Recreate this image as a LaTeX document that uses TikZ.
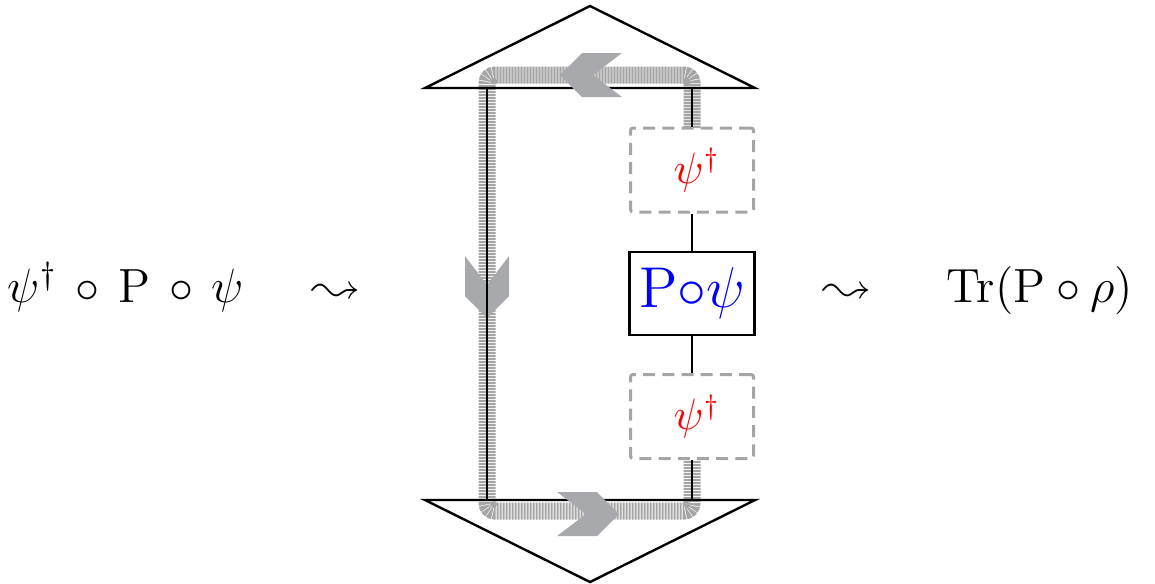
\documentclass[tikz,border=0pt]{standalone}
\usepackage{latexsym}
\usetikzlibrary{positioning,calc}
\definecolor{bandgray}{RGB}{165,165,165}
\definecolor{chevgray}{RGB}{167,169,172}
\definecolor{boxgray}{RGB}{165,165,165}

\begin{document}
\begin{tikzpicture}[x=0.25pt,y=-0.25pt,
  wire/.style={line width=0.55pt},
  tri/.style={line width=0.6pt,line join=miter},
  band/.style={bandgray,line width=4.25pt,dash pattern=on 0.55pt off 0.2pt,rounded corners=2pt},
  ghost/.style={draw=boxgray,line width=0.75pt,dash pattern=on 3pt off 1.8pt,rounded corners=0.6pt,
    minimum width=30.75pt,minimum height=21pt,inner sep=0pt,font=\fontsize{10.5}{12}\selectfont},
  gate/.style={draw,line width=0.6pt,minimum width=31.25pt,minimum height=20.75pt,inner sep=0pt,
    font=\fontsize{13.3}{16}\selectfont},
  eqn/.style={anchor=base,inner sep=0pt,font=\fontsize{12}{14}\selectfont},
  chevron/.pic={\fill[chevgray] (0,0) -- (-22,-22) -- (-62,-22) -- (-33,0) -- (-62,22) -- (-22,22) -- cycle;}]
\useasboundingbox (0,0) rectangle (1155,583);

% triangles
\coordinate (capL) at (425,88);
\coordinate (capR) at (755,88);
\coordinate (capA) at (590,6);
\coordinate (cupL) at (425,500);
\coordinate (cupR) at (755,500);
\coordinate (cupA) at (590,582);
\coordinate (capW) at (487,88);
\coordinate (cupW) at (487,500);
\coordinate (capV) at (692,88);
\coordinate (cupV) at (692,500);

% striped band
\draw[band] (692,128) -- (692,75) -- (487,75) -- (487,511) -- (692,511) -- (692,460);

\draw[tri] (capL) -- (capA) -- (capR) -- cycle;
\draw[tri] (cupL) -- (cupA) -- (cupR) -- cycle;

% chevrons
\pic[rotate=180] at (560,75) {chevron};
\pic at (619,514) {chevron};
\pic[rotate=-90] at (487,318) {chevron};

% boxes
\node[ghost] (dagU) at (692,170) {\hspace{2.5pt}$\color{red}\psi^\dagger$};
\node[gate] (Ppsi) at (692,293.5) {$\color{blue}{\mathrm{P}}{\circ}{\psi}$};
\node[ghost] (dagD) at (692,416.5) {\hspace{2.5pt}$\color{red}\psi^\dagger$};

\draw[wire] (capW) -- (cupW);
\draw[wire] (capV) -- (dagU);
\draw[wire] (dagU) -- (Ppsi);
\draw[wire] (Ppsi) -- (dagD);
\draw[wire] (dagD) -- (cupV);

% equation
\node[eqn] (lhs) at (126,302) {$\psi^\dagger\,\circ\,\mathrm{P}\,\circ\,\psi$};
\node[eqn] (sqL) at (336,302) {$\leadsto$};
\node[eqn] (sqR) at (847,302) {$\leadsto$};
\node[eqn] (rhs) at (1040,302) {$\mathrm{Tr}(\mathrm{P}\circ\rho)$};
\end{tikzpicture}
\end{document}
